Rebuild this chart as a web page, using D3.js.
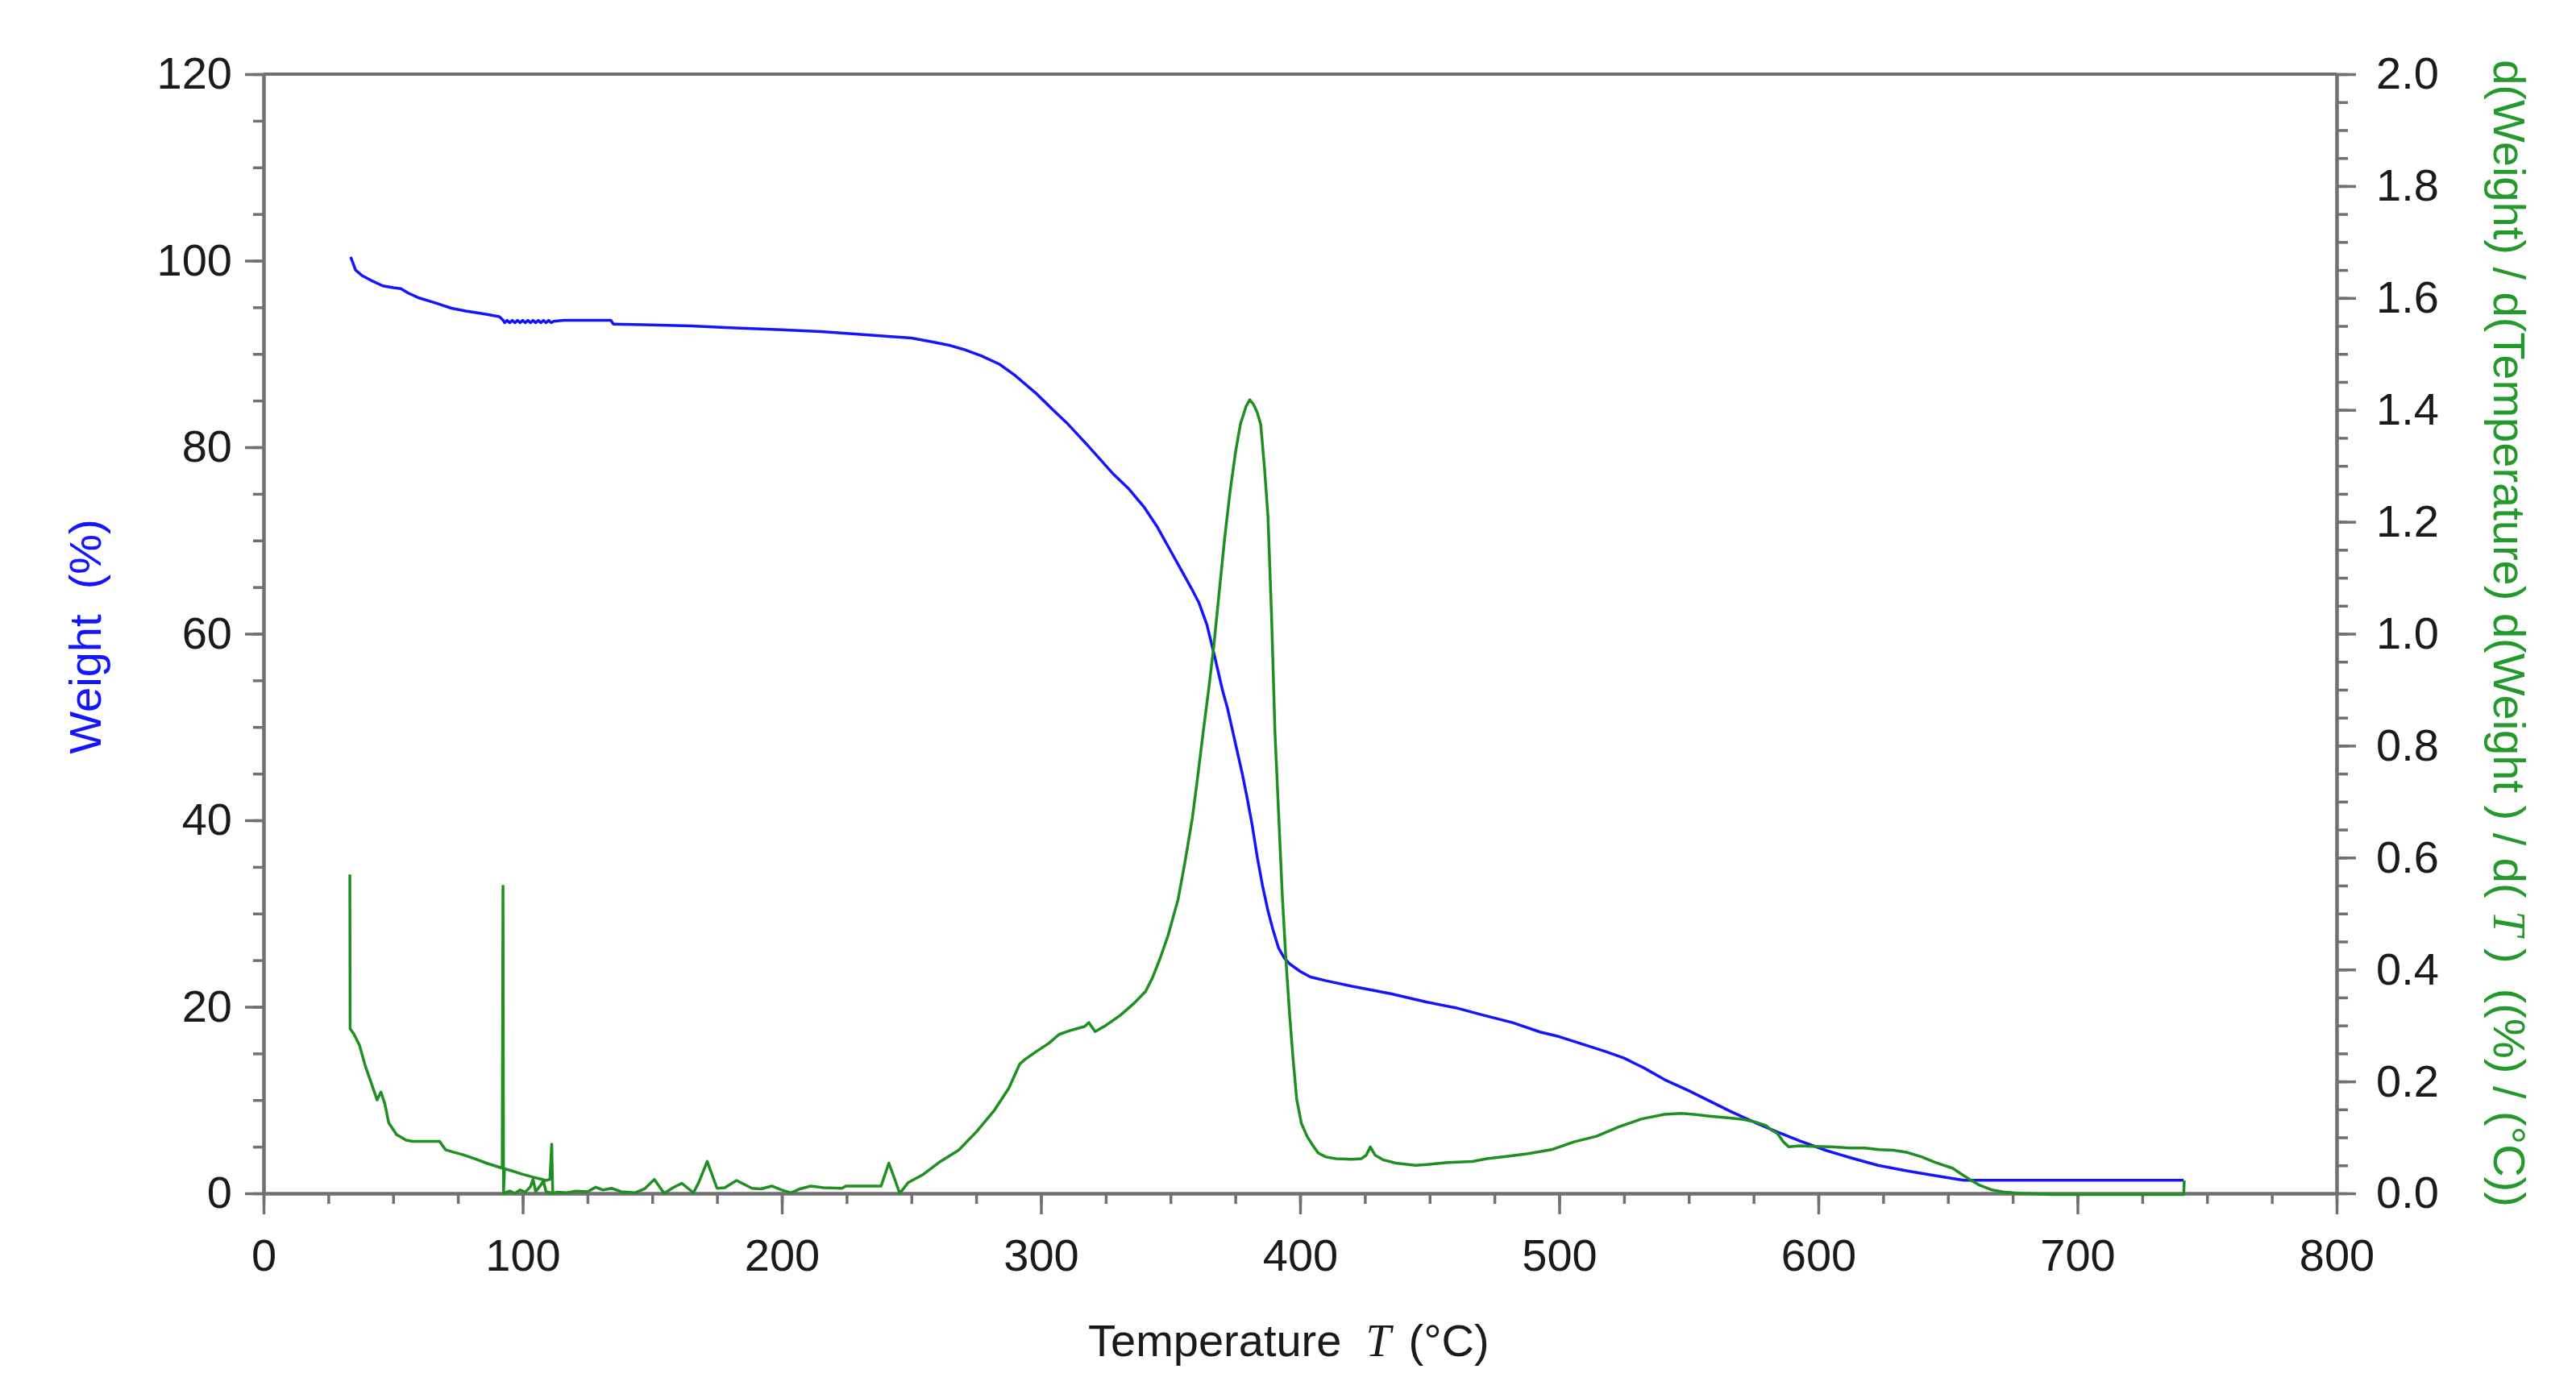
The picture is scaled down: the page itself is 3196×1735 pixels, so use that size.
<!DOCTYPE html>
<html><head><meta charset="utf-8">
<script src="https://cdn.jsdelivr.net/npm/d3@7"></script>
<style>
html,body{margin:0;padding:0;background:#fff;}
svg{display:block;}
</style></head>
<body>
<svg id="chart" width="3196" height="1735"></svg>
<script>
// ---- data ----
const xTicks = [0,100,200,300,400,500,600,700,800];
const xMinorTicks = d3.range(0, 801, 25);
const yLeftTicks = [0,20,40,60,80,100,120];
const yLeftMinorTicks = d3.range(0, 121, 5);
const yRightTicks = [0,0.2,0.4,0.6,0.8,1.0,1.2,1.4,1.6,1.8,2.0];
const yRightMinorTicks = d3.range(0, 41).map(i => i*0.05);

// Weight (%) vs temperature (°C)
const weightT = [33.6,34.3,35.5,38,41.4,46,50,53,56,60,66,72.5,78,85,91,92.5,93,94,95,96,97,98,99,100,101,102,103,104,105,106,107,108,109,110,111,112,116,134,135,150,165,180,200,215,225,240,250,258,265,270,277,284,290,298,305,310,318,328,334,340,345,350,355,358,361,364,367,370,372,375,377.6,379.5,381.5,383.5,385.5,387.6,389.5,391.7,394,396,400,404,410,420,435,449,460,470.7,482,492.6,500,510,518,525,533,540.6,550,558,566,575.5,584,593,603,612.6,623,634.4,645,656,741];
const weightV = [100.4,99.9,99.0,98.4,97.9,97.3,97.1,97.0,96.5,96.0,95.5,94.9,94.6,94.3,94.0,93.6,93.35,93.6,93.35,93.6,93.35,93.6,93.35,93.6,93.35,93.6,93.35,93.6,93.35,93.6,93.35,93.6,93.35,93.6,93.35,93.5,93.6,93.6,93.2,93.1,93.0,92.8,92.6,92.4,92.2,91.9,91.7,91.3,90.9,90.5,89.8,88.9,87.7,85.8,83.9,82.6,80.2,77.1,75.5,73.5,71.4,68.9,66.4,64.9,63.3,61.0,57.6,54.0,52.0,48.3,45.1,42.5,39.5,36.0,33.0,30.3,28.3,26.3,25.2,24.6,23.8,23.2,22.8,22.2,21.4,20.5,19.9,19.1,18.3,17.3,16.8,15.9,15.2,14.5,13.4,12.2,11.0,9.9,8.8,7.6,6.6,5.6,4.6,3.8,3.0,2.4,1.9,1.4,1.4];

// d(Weight)/dT ((%)/(°C)) vs temperature
const dtgT = [33.3,33.4,34.8,37,39.3,41.5,43.8,45.3,46.8,48.3,51.3,55,57.4,67.9,70.2,73,77,82,86,92.1,92.4,92.6,93,96,100,104,106.6,109,110.5,111.2,111.6,113.2,117,120.7,125,128.2,131,134.3,138,143.3,147,150.8,154.6,158,161.4,165.9,168,171.2,175,178,182.5,188.5,192,196.1,200,203.6,207,211.2,216,223.2,224.7,238.3,241.3,243.2,245.5,248.7,254.3,261.2,268.2,275.1,282.1,287.6,291.8,294,298.7,303,307,312,316.8,318.5,320.9,325,330.6,336,340.4,343,345.9,349,352.9,355.5,358.4,360.5,362.6,364.7,366.7,368.8,370.9,373,375.1,377,379.2,380.6,382,383.5,384.8,386.2,387.6,389,390.3,391.7,393.1,394.5,395.9,397.3,398.7,400.5,402.8,405,407,410,413.9,420,423.7,425.5,427.1,429,432,437,444.5,450,457,466.4,472,479.5,488,497,505.7,514.4,523.1,531.8,540.6,547.1,552,558,565,571.1,576,579.8,582,584.2,586.5,588.6,593,597.3,605,612.6,618,623.5,629,634.4,640,645.3,651.8,655,658.4,662,667.1,672,678,690,700,720,741,741.2];
const dtgV = [0.570,0.294,0.285,0.265,0.227,0.198,0.167,0.181,0.160,0.126,0.105,0.095,0.093,0.093,0.078,0.074,0.069,0.061,0.054,0.045,0.549,0.0,0.044,0.040,0.034,0.029,0.026,0.023,0.025,0.088,0.0,0.002,0.001,0.004,0.003,0.011,0.006,0.009,0.003,0.001,0.008,0.025,0.0,0.010,0.018,0.001,0.020,0.057,0.009,0.010,0.023,0.009,0.008,0.013,0.006,0.001,0.008,0.013,0.010,0.009,0.013,0.013,0.054,0.030,0.0,0.019,0.033,0.057,0.077,0.110,0.149,0.188,0.231,0.240,0.255,0.268,0.284,0.292,0.298,0.305,0.289,0.300,0.318,0.340,0.361,0.385,0.419,0.46,0.525,0.59,0.670,0.745,0.824,0.90,0.978,1.075,1.171,1.255,1.325,1.375,1.407,1.418,1.410,1.395,1.374,1.30,1.210,1.03,0.824,0.68,0.535,0.42,0.323,0.24,0.168,0.125,0.101,0.085,0.072,0.065,0.062,0.061,0.062,0.068,0.083,0.068,0.060,0.054,0.050,0.052,0.055,0.057,0.062,0.066,0.071,0.078,0.092,0.102,0.119,0.133,0.141,0.143,0.141,0.138,0.135,0.132,0.127,0.121,0.113,0.107,0.092,0.083,0.085,0.084,0.083,0.081,0.081,0.078,0.077,0.073,0.065,0.055,0.045,0.035,0.025,0.015,0.006,0.002,0.0,-0.002,-0.002,-0.002,-0.002,0.023];
// overlapping near-zero trace between the two spikes
const dtgGlitchT = [92.6,95,97,99,101,103,104,105,107,108,109,111.6];
const dtgGlitchV = [0.0,0.004,0.0,0.006,0.002,0.012,0.025,0.003,0.015,0.022,0.003,0.0];

// ---- layout ----
const L = 327, R = 2899, T = 92, B = 1481;
const FS = 56;
const axisCol = "#707070", textCol = "#1a1a1a";
const blue = "#1414ff", green = "#1f8f1f", greenText = "#22992a";

const svg = d3.select("#chart");
const x = d3.scaleLinear().domain([0, 800]).range([L, R]);
const yL = d3.scaleLinear().domain([0, 120]).range([B, T]);
const yR = d3.scaleLinear().domain([0, 2]).range([B, T]);

function styleAxis(g) {
  g.select(".domain").attr("stroke", axisCol).attr("stroke-width", 4);
  g.selectAll(".tick line").attr("stroke", axisCol).attr("stroke-width", 3.5);
  g.selectAll(".tick text").attr("fill", textCol).style("font-family", "'Liberation Sans', Arial, sans-serif").style("font-size", FS + "px");
  g.attr("font-family", null).attr("font-size", null);
}

// minor ticks
svg.append("g").attr("transform", `translate(0,${B})`)
  .call(d3.axisBottom(x).tickValues(xMinorTicks).tickSize(13).tickSizeOuter(0).tickFormat(""))
  .call(styleAxis);
svg.append("g").attr("transform", `translate(${L},0)`)
  .call(d3.axisLeft(yL).tickValues(yLeftMinorTicks).tickSize(13).tickSizeOuter(0).tickFormat(""))
  .call(styleAxis);
svg.append("g").attr("transform", `translate(${R},0)`)
  .call(d3.axisRight(yR).tickValues(yRightMinorTicks).tickSize(14).tickSizeOuter(0).tickFormat(""))
  .call(styleAxis);

// major ticks
svg.append("g").attr("transform", `translate(0,${B})`)
  .call(d3.axisBottom(x).tickValues(xTicks).tickSize(26).tickSizeOuter(0).tickPadding(30).tickFormat(d3.format("d")))
  .call(styleAxis);
svg.append("g").attr("transform", `translate(${L},0)`)
  .call(d3.axisLeft(yL).tickValues(yLeftTicks).tickSize(23).tickSizeOuter(0).tickPadding(16).tickFormat(d3.format("d")))
  .call(styleAxis);
svg.append("g").attr("transform", `translate(${R},0)`)
  .call(d3.axisRight(yR).tickValues(yRightTicks).tickSize(24).tickSizeOuter(0).tickPadding(25).tickFormat(d3.format(".1f")))
  .call(styleAxis);

// top frame line
svg.append("line").attr("x1", x(0)).attr("x2", x(800)).attr("y1", T).attr("y2", T)
  .attr("stroke", axisCol).attr("stroke-width", 4);

// ---- data lines ----
const lineW = d3.line().x(d => x(d[0])).y(d => yL(d[1]));
const lineD = d3.line().x(d => x(d[0])).y(d => yR(d[1]));

svg.append("path").datum(weightT.map((t, i) => [t, weightV[i]]))
  .attr("d", lineW).attr("fill", "none").attr("stroke", blue).attr("stroke-width", 3.5).attr("stroke-linejoin", "round");
svg.append("path").datum(dtgGlitchT.map((t, i) => [t, dtgGlitchV[i]]))
  .attr("d", lineD).attr("fill", "none").attr("stroke", green).attr("stroke-width", 3.5).attr("stroke-linejoin", "round");
svg.append("path").datum(dtgT.map((t, i) => [t, dtgV[i]]))
  .attr("d", lineD).attr("fill", "none").attr("stroke", green).attr("stroke-width", 3.5).attr("stroke-linejoin", "round");

// ---- titles ----
const sans = "'Liberation Sans', Arial, sans-serif";
const serif = "'Liberation Serif', 'Times New Roman', serif";

const xt = svg.append("text").attr("x", 1350).attr("y", 1683)
  .attr("fill", textCol).style("font-family", sans).style("font-size", FS + "px");
xt.append("tspan").text("Temperature");
xt.append("tspan").attr("dx", 30).style("font-family", serif).style("font-style", "italic").text("T");
xt.append("tspan").attr("dx", 22).text("(°C)");

svg.append("text").attr("transform", "translate(125,790) rotate(-90)")
  .attr("text-anchor", "middle").attr("fill", blue)
  .style("font-family", sans).style("font-size", FS + "px")
  .style("white-space", "pre").text("Weight  (%)");

const rt = svg.append("text").attr("transform", "translate(3094,786) rotate(90)")
  .attr("text-anchor", "middle").attr("fill", greenText)
  .style("font-family", sans).style("font-size", FS + "px").style("white-space", "pre");
rt.append("tspan").text("d(Weight) / d(Temperature) d(Weight ) / d( ");
rt.append("tspan").style("font-family", serif).style("font-style", "italic").text("T");
rt.append("tspan").text(" )  ((%) / (°C))");
</script>
</body></html>
